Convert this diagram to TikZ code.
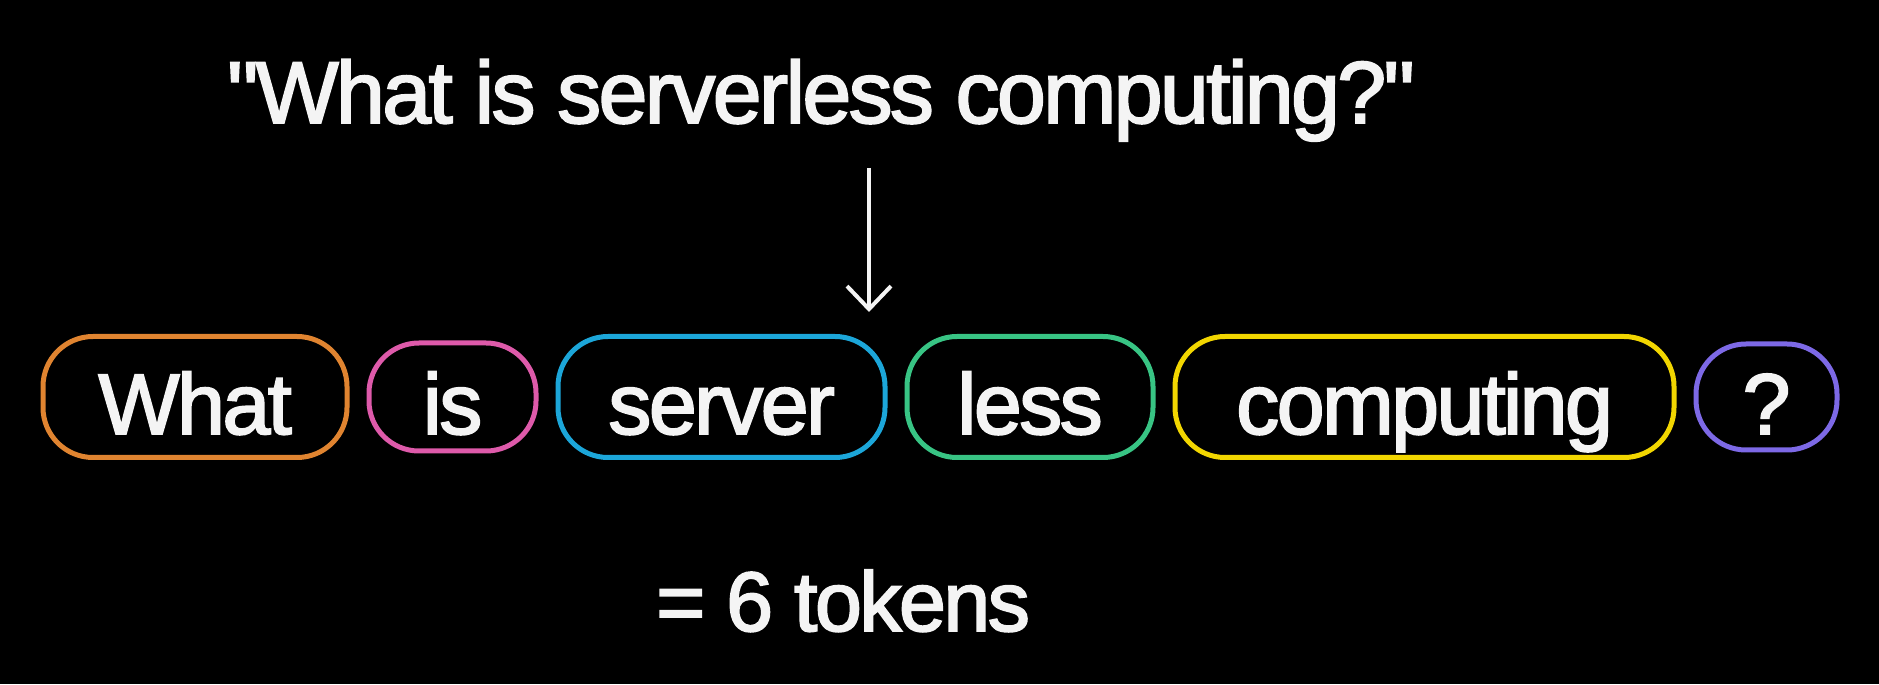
\documentclass[tikz,border=0pt]{standalone}
\usepackage{fontspec}
\setmainfont[Ligatures=TeXOff,LetterSpace=-3,FakeBold=2.2]{Liberation Sans}
\usepackage{tikz}
\usetikzlibrary{arrows.meta,positioning}
\definecolor{tkorange}{RGB}{224,132,48}
\definecolor{tkpink}{RGB}{222,90,170}
\definecolor{tkblue}{RGB}{28,166,217}
\definecolor{tkgreen}{RGB}{56,196,132}
\definecolor{tkyellow}{RGB}{242,214,0}
\definecolor{tkpurple}{RGB}{125,105,230}
\definecolor{tkwhite}{RGB}{244,244,244}

\begin{document}
\begin{tikzpicture}[>={Straight Barb[length=2.3mm,width=4.4mm]},node distance=1.7mm,
    tok/.style={draw=#1,line width=0.5mm,rounded corners=5mm,text=tkwhite,
      minimum height=12.1mm,inner sep=0pt,text height=7.4mm,text depth=0pt,
      font=\fontsize{24.5}{29}\selectfont},
    big/.style={text=tkwhite,inner sep=0pt,anchor=base}]
        \fill[black] (0,0) rectangle (18.79,6.84);
        \useasboundingbox (0,0) rectangle (18.79,6.84);
        \node[big,font=\fontsize{25}{30}\selectfont] (quest) at (8.21,5.61) {"What is serverless computing?"};
        \node[tok=tkorange,minimum width=30.4mm,anchor=west] (what) at (0.405,2.87) {What};
        \node[tok=tkpink,minimum width=16.7mm,minimum height=10.8mm,right=of what] (is) {is};
        \node[tok=tkblue,minimum width=32.7mm,right=of is] (server) {server};
        \node[tok=tkgreen,minimum width=24.6mm,right=of server] (less) {less};
        \node[tok=tkyellow,minimum width=49.9mm,right=of less] (comp) {computing};
        \node[tok=tkpurple,minimum width=14.1mm,minimum height=10.6mm,right=of comp] (qm) {?};
        \node[big,font=\fontsize{24}{29}\selectfont] (count) at (8.43,0.53) {= 6 tokens};
        \coordinate (from) at (8.69,5.16);
        \coordinate (to) at (8.69,3.72);
        \draw[->,tkwhite,line width=0.4mm] (from)--(to);
      \end{tikzpicture}
\end{document}
